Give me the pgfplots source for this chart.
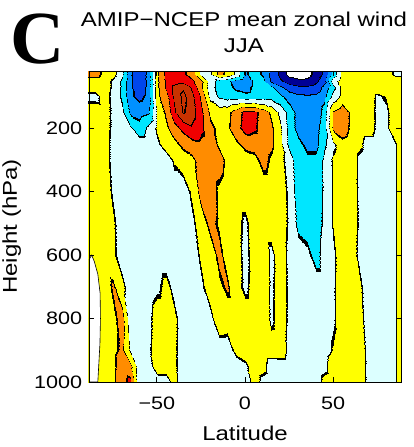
\documentclass[border=0pt]{standalone}
\usepackage{pgfplots}
\pgfplotsset{compat=1.18}
\usepackage{fontspec}
\setmainfont{Liberation Sans}[FakeStretch=1.2]
\newfontfamily\Cfont{Liberation Serif}
\begin{document}
\begin{tikzpicture}
\begin{axis}[
  at={(0pt,0pt)}, anchor=south west,
  scale only axis, width=312pt, height=311pt,
  xmin=-88.5, xmax=88.5, ymin=20, ymax=1000, y dir=reverse,
  xtick={-50,0,50}, xticklabels={−50,0,50},
  ytick={200,400,600,800,1000}, yticklabels={200,400,600,800,1000},
  tick align=inside, major tick length=5pt,
  every tick/.style={black, line width=0.8pt},
  axis line style={line width=0.8pt},
  tick label style={font=\fontsize{18}{20}\selectfont},
  xticklabel style={inner sep=0pt, yshift=-15pt},
  yticklabel style={inner sep=0pt, xshift=-6.7pt},
  point meta min=-6, point meta max=5,
  colormap={cmap}{
    rgb255(0pt)=(255,255,255)
    rgb255(94pt)=(0,0,0)
    rgb255(106pt)=(0,0,150)
    rgb255(194pt)=(0,0,0)
    rgb255(206pt)=(0,70,235)
    rgb255(294pt)=(0,0,0)
    rgb255(306pt)=(0,145,255)
    rgb255(394pt)=(0,0,0)
    rgb255(406pt)=(0,230,255)
    rgb255(494pt)=(0,0,0)
    rgb255(506pt)=(220,255,255)
    rgb255(594pt)=(0,0,0)
    rgb255(606pt)=(255,255,0)
    rgb255(694pt)=(0,0,0)
    rgb255(706pt)=(255,140,0)
    rgb255(794pt)=(0,0,0)
    rgb255(806pt)=(240,0,0)
    rgb255(894pt)=(0,0,0)
    rgb255(906pt)=(200,50,0)
    rgb255(994pt)=(0,0,0)
    rgb255(1006pt)=(200,50,0)
    rgb255(1100pt)=(200,50,0)
  },
  colormap access=piecewise constant,
  axis on top,
]
\addplot[surf, shader=interp, mesh/rows=17, mesh/cols=37, point meta=explicit] coordinates {
(-90,1000)[0.5] (-85,1000)[0.5] (-80,1000)[0.6] (-75,1000)[0.8] (-70,1000)[1.7] (-65,1000)[2.3] (-60,1000)[-0.7] (-55,1000)[-0.5] (-50,1000)[-0.5] (-45,1000)[-0.4] (-40,1000)[0.3] (-35,1000)[-0.5] (-30,1000)[-0.5] (-25,1000)[-0.5] (-20,1000)[-0.5] (-15,1000)[-0.5] (-10,1000)[-0.5] (-5,1000)[-0.5] (0,1000)[-0.9] (5,1000)[0.5] (10,1000)[-0.3] (15,1000)[-0.5] (20,1000)[-0.5] (25,1000)[-0.5] (30,1000)[-0.5] (35,1000)[-0.5] (40,1000)[-0.5] (45,1000)[0.3] (50,1000)[0.5] (55,1000)[0.5] (60,1000)[0.5] (65,1000)[0.5] (70,1000)[-0.3] (75,1000)[-0.5] (80,1000)[-0.5] (85,1000)[-0.1] (90,1000)[0.8]
(-90,950)[0.5] (-85,950)[0.5] (-80,950)[0.6] (-75,950)[0.8] (-70,950)[1.5] (-65,950)[1.3] (-60,950)[-0.6] (-55,950)[-0.4] (-50,950)[0.5] (-45,950)[0.5] (-40,950)[0.2] (-35,950)[-0.5] (-30,950)[-0.5] (-25,950)[-0.5] (-20,950)[-0.5] (-15,950)[-0.5] (-10,950)[-0.5] (-5,950)[-0.5] (0,950)[-0.2] (5,950)[0.5] (10,950)[0.3] (15,950)[-0.5] (20,950)[-0.5] (25,950)[-0.5] (30,950)[-0.5] (35,950)[-0.5] (40,950)[-0.5] (45,950)[-0.3] (50,950)[0.7] (55,950)[0.5] (60,950)[0.5] (65,950)[0.5] (70,950)[-0.3] (75,950)[-0.5] (80,950)[-0.5] (85,950)[-0.1] (90,950)[0.8]
(-90,900)[0.5] (-85,900)[0.5] (-80,900)[0.6] (-75,900)[0.8] (-70,900)[1.2] (-65,900)[-0.15] (-60,900)[-0.5] (-55,900)[-0.2] (-50,900)[0.5] (-45,900)[0.5] (-40,900)[0.2] (-35,900)[-0.5] (-30,900)[-0.5] (-25,900)[-0.5] (-20,900)[-0.5] (-15,900)[-0.5] (-10,900)[-0.5] (-5,900)[0.3] (0,900)[0.5] (5,900)[0.5] (10,900)[0.5] (15,900)[0.5] (20,900)[0.6] (25,900)[-0.3] (30,900)[-0.5] (35,900)[-0.5] (40,900)[-0.5] (45,900)[-0.5] (50,900)[0.1] (55,900)[0.5] (60,900)[0.5] (65,900)[0.5] (70,900)[-0.3] (75,900)[-0.5] (80,900)[-0.5] (85,900)[-0.1] (90,900)[0.8]
(-90,800)[0.5] (-85,800)[0.5] (-80,800)[0.6] (-75,800)[0.75] (-70,800)[1.4] (-65,800)[-0.7] (-60,800)[-0.5] (-55,800)[-0.3] (-50,800)[0.5] (-45,800)[0.5] (-40,800)[0.25] (-35,800)[-0.5] (-30,800)[-0.5] (-25,800)[-0.5] (-20,800)[-0.3] (-15,800)[0.6] (-10,800)[0.5] (-5,800)[0.5] (0,800)[0.5] (5,800)[0.5] (10,800)[0.7] (15,800)[-0.2] (20,800)[0.5] (25,800)[-0.2] (30,800)[-0.5] (35,800)[-0.5] (40,800)[-0.5] (45,800)[-0.5] (50,800)[-0.15] (55,800)[0.6] (60,800)[0.5] (65,800)[0.3] (70,800)[-0.5] (75,800)[-0.5] (80,800)[-0.5] (85,800)[-0.1] (90,800)[0.8]
(-90,700)[0.5] (-85,700)[0.5] (-80,700)[0.5] (-75,700)[1.15] (-70,700)[0.25] (-65,700)[-0.5] (-60,700)[-0.5] (-55,700)[-0.5] (-50,700)[-0.2] (-45,700)[0.3] (-40,700)[-0.3] (-35,700)[-0.5] (-30,700)[-0.5] (-25,700)[-0.2] (-20,700)[0.5] (-15,700)[0.8] (-10,700)[1.15] (-5,700)[0.35] (0,700)[-0.2] (5,700)[0.4] (10,700)[0.7] (15,700)[-0.2] (20,700)[0.5] (25,700)[-0.2] (30,700)[-0.5] (35,700)[-0.5] (40,700)[-0.5] (45,700)[-0.5] (50,700)[-0.15] (55,700)[0.6] (60,700)[0.5] (65,700)[0.15] (70,700)[-0.5] (75,700)[-0.5] (80,700)[-0.5] (85,700)[-0.1] (90,700)[0.8]
(-90,600)[0.5] (-85,600)[0.5] (-80,600)[0.5] (-75,600)[0.2] (-70,600)[-0.5] (-65,600)[-0.5] (-60,600)[-0.5] (-55,600)[-0.5] (-50,600)[-0.5] (-45,600)[-0.5] (-40,600)[-0.5] (-35,600)[-0.5] (-30,600)[-0.5] (-25,600)[0.2] (-20,600)[0.5] (-15,600)[1.25] (-10,600)[0.6] (-5,600)[0.4] (0,600)[-0.3] (5,600)[0.45] (10,600)[0.7] (15,600)[-0.25] (20,600)[0.5] (25,600)[-0.25] (30,600)[-0.5] (35,600)[-0.75] (40,600)[-1.4] (45,600)[-0.5] (50,600)[-0.2] (55,600)[0.6] (60,600)[0.5] (65,600)[-0.3] (70,600)[-0.5] (75,600)[-0.5] (80,600)[-0.5] (85,600)[-0.1] (90,600)[0.8]
(-90,500)[0.5] (-85,500)[0.5] (-80,500)[0.5] (-75,500)[0.15] (-70,500)[-0.5] (-65,500)[-0.5] (-60,500)[-0.5] (-55,500)[-0.5] (-50,500)[-0.5] (-45,500)[-0.5] (-40,500)[-0.5] (-35,500)[-0.5] (-30,500)[-0.2] (-25,500)[0.5] (-20,500)[1.3] (-15,500)[0.85] (-10,500)[0.5] (-5,500)[0.35] (0,500)[-0.2] (5,500)[0.5] (10,500)[0.5] (15,500)[0.5] (20,500)[0.5] (25,500)[-0.15] (30,500)[-1.3] (35,500)[-1.5] (40,500)[-1.5] (45,500)[-0.8] (50,500)[0.1] (55,500)[0.5] (60,500)[0.5] (65,500)[-0.2] (70,500)[-0.5] (75,500)[-0.5] (80,500)[-0.5] (85,500)[-0.1] (90,500)[0.8]
(-90,400)[0.5] (-85,400)[0.5] (-80,400)[0.5] (-75,400)[-0.15] (-70,400)[-0.5] (-65,400)[-0.5] (-60,400)[-0.5] (-55,400)[-0.5] (-50,400)[-0.5] (-45,400)[-0.5] (-40,400)[-0.5] (-35,400)[-0.5] (-30,400)[0.2] (-25,400)[1.4] (-20,400)[1.5] (-15,400)[0.8] (-10,400)[0.5] (-5,400)[0.5] (0,400)[0.5] (5,400)[0.5] (10,400)[0.5] (15,400)[0.5] (20,400)[0.5] (25,400)[-0.2] (30,400)[-1.6] (35,400)[-1.7] (40,400)[-1.6] (45,400)[-0.8] (50,400)[0.1] (55,400)[0.5] (60,400)[0.5] (65,400)[-0.25] (70,400)[-0.5] (75,400)[-0.5] (80,400)[-0.5] (85,400)[-0.1] (90,400)[0.8]
(-90,300)[0.5] (-85,300)[0.5] (-80,300)[0.4] (-75,300)[-0.3] (-70,300)[-0.5] (-65,300)[-0.5] (-60,300)[-0.5] (-55,300)[-0.5] (-50,300)[-0.5] (-45,300)[-0.5] (-40,300)[0.15] (-35,300)[0.5] (-30,300)[0.75] (-25,300)[1.5] (-20,300)[1.5] (-15,300)[1.4] (-10,300)[0.75] (-5,300)[0.5] (0,300)[0.5] (5,300)[0.7] (10,300)[1.3] (15,300)[0.85] (20,300)[0.3] (25,300)[-0.4] (30,300)[-1.7] (35,300)[-1.75] (40,300)[-1.75] (45,300)[-0.8] (50,300)[0.15] (55,300)[0.5] (60,300)[0.5] (65,300)[-0.25] (70,300)[-0.5] (75,300)[-0.5] (80,300)[-0.5] (85,300)[-0.1] (90,300)[0.8]
(-90,250)[0.5] (-85,250)[0.5] (-80,250)[0.4] (-75,250)[-0.3] (-70,250)[-0.5] (-65,250)[-0.5] (-60,250)[-0.5] (-55,250)[-0.5] (-50,250)[-0.2] (-45,250)[0.5] (-40,250)[0.7] (-35,250)[1.25] (-30,250)[1.7] (-25,250)[1.8] (-20,250)[1.6] (-15,250)[0.8] (-10,250)[0.5] (-5,250)[0.8] (0,250)[1.3] (5,250)[1.4] (10,250)[1.4] (15,250)[1.2] (20,250)[0.3] (25,250)[-1.3] (30,250)[-1.7] (35,250)[-2.3] (40,250)[-2.25] (45,250)[-1.2] (50,250)[-0.2] (55,250)[0.7] (60,250)[0.5] (65,250)[0.2] (70,250)[-0.5] (75,250)[-0.5] (80,250)[-0.5] (85,250)[-0.1] (90,250)[0.8]
(-90,200)[0.5] (-85,200)[0.5] (-80,200)[0.4] (-75,200)[-0.2] (-70,200)[-0.5] (-65,200)[-0.8] (-60,200)[-1.6] (-55,200)[-0.8] (-50,200)[0.2] (-45,200)[0.8] (-40,200)[1.6] (-35,200)[2.3] (-30,200)[2.8] (-25,200)[2.2] (-20,200)[1.25] (-15,200)[0.7] (-10,200)[0.8] (-5,200)[1.6] (0,200)[2.4] (5,200)[2.2] (10,200)[1.5] (15,200)[1.2] (20,200)[0.2] (25,200)[-1.3] (30,200)[-2.4] (35,200)[-2.7] (40,200)[-2.3] (45,200)[-1.4] (50,200)[1.2] (55,200)[1.5] (60,200)[0.8] (65,200)[0.5] (70,200)[0.5] (75,200)[-0.2] (80,200)[-0.2] (85,200)[0.6] (90,200)[0.8]
(-90,150)[0.5] (-85,150)[0.5] (-80,150)[0.4] (-75,150)[-0.2] (-70,150)[-0.8] (-65,150)[-2.2] (-60,150)[-2.4] (-55,150)[-2.15] (-50,150)[0.2] (-45,150)[1.2] (-40,150)[2.8] (-35,150)[4.1] (-30,150)[3.4] (-25,150)[2.2] (-20,150)[0.8] (-15,150)[0.5] (-10,150)[0.7] (-5,150)[1.5] (0,150)[2.3] (5,150)[2.25] (10,150)[1.6] (15,150)[0.8] (20,150)[-0.3] (25,150)[-1.4] (30,150)[-2.4] (35,150)[-2.8] (40,150)[-2.6] (45,150)[-1.6] (50,150)[1.1] (55,150)[1.6] (60,150)[0.8] (65,150)[0.5] (70,150)[0.5] (75,150)[-0.2] (80,150)[-0.2] (85,150)[0.6] (90,150)[0.8]
(-90,100)[-0.3] (-85,100)[-0.3] (-80,100)[0.4] (-75,100)[-0.3] (-70,100)[-1.2] (-65,100)[-2.8] (-60,100)[-3.3] (-55,100)[-2.7] (-50,100)[0.8] (-45,100)[1.6] (-40,100)[3.2] (-35,100)[4.3] (-30,100)[3.2] (-25,100)[1.8] (-20,100)[-0.3] (-15,100)[-1.2] (-10,100)[-1.5] (-5,100)[-1.6] (0,100)[-1.7] (5,100)[-1.6] (10,100)[-1.5] (15,100)[-1.4] (20,100)[-1.8] (25,100)[-2.5] (30,100)[-2.8] (35,100)[-2.85] (40,100)[-2.8] (45,100)[-2.3] (50,100)[-0.7] (55,100)[0.3] (60,100)[0.5] (65,100)[0.5] (70,100)[0.5] (75,100)[-0.15] (80,100)[0.1] (85,100)[0.4] (90,100)[0.5]
(-90,70)[0.5] (-85,70)[0.5] (-80,70)[0.5] (-75,70)[-0.2] (-70,70)[-1.2] (-65,70)[-2.8] (-60,70)[-3.75] (-55,70)[-2.7] (-50,70)[0.8] (-45,70)[2.2] (-40,70)[3.3] (-35,70)[3.8] (-30,70)[2.8] (-25,70)[1.2] (-20,70)[-0.6] (-15,70)[-1.4] (-10,70)[-1.7] (-5,70)[-2.2] (0,70)[-2.5] (5,70)[-1.7] (10,70)[-1.5] (15,70)[-1.8] (20,70)[-2.8] (25,70)[-3.5] (30,70)[-3.8] (35,70)[-3.85] (40,70)[-3.6] (45,70)[-2.7] (50,70)[-1.3] (55,70)[0.3] (60,70)[0.5] (65,70)[0.5] (70,70)[0.5] (75,70)[0.5] (80,70)[0.5] (85,70)[0.5] (90,70)[0.5]
(-90,50)[0.5] (-85,50)[0.6] (-80,50)[0.5] (-75,50)[-0.2] (-70,50)[-1.2] (-65,50)[-2.8] (-60,50)[-3.8] (-55,50)[-2.7] (-50,50)[0.8] (-45,50)[2.2] (-40,50)[2.5] (-35,50)[2.6] (-30,50)[2.2] (-25,50)[1.25] (-20,50)[-0.5] (-15,50)[-1.4] (-10,50)[-1.8] (-5,50)[-2.4] (0,50)[-2.8] (5,50)[-1.8] (10,50)[-1.7] (15,50)[-3.2] (20,50)[-3.8] (25,50)[-4.5] (30,50)[-4.7] (35,50)[-4.7] (40,50)[-4.2] (45,50)[-3.3] (50,50)[-0.4] (55,50)[0.5] (60,50)[0.5] (65,50)[0.5] (70,50)[0.5] (75,50)[0.5] (80,50)[0.5] (85,50)[0.5] (90,50)[0.5]
(-90,30)[1.3] (-85,30)[1.3] (-80,30)[0.8] (-75,30)[0.4] (-70,30)[-0.8] (-65,30)[-2.8] (-60,30)[-3.8] (-55,30)[-2.7] (-50,30)[0.8] (-45,30)[2.3] (-40,30)[2.6] (-35,30)[2.2] (-30,30)[1.5] (-25,30)[-0.3] (-20,30)[-0.2] (-15,30)[1.3] (-10,30)[0.8] (-5,30)[-0.2] (0,30)[-2.2] (5,30)[-1.5] (10,30)[-2.2] (15,30)[-3.2] (20,30)[-4.3] (25,30)[-5.3] (30,30)[-5.6] (35,30)[-5.4] (40,30)[-4.6] (45,30)[-3.8] (50,30)[-1.6] (55,30)[0.3] (60,30)[0.5] (65,30)[0.5] (70,30)[0.5] (75,30)[0.5] (80,30)[0.5] (85,30)[-0.2] (90,30)[-0.3]
(-90,20)[1.3] (-85,20)[1.3] (-80,20)[0.8] (-75,20)[0.4] (-70,20)[-0.8] (-65,20)[-2.8] (-60,20)[-3.8] (-55,20)[-2.7] (-50,20)[0.8] (-45,20)[2.3] (-40,20)[2.6] (-35,20)[2.2] (-30,20)[1.5] (-25,20)[-0.3] (-20,20)[-0.2] (-15,20)[1.3] (-10,20)[0.8] (-5,20)[-0.2] (0,20)[-2.2] (5,20)[-1.5] (10,20)[-2.2] (15,20)[-3.2] (20,20)[-4.3] (25,20)[-5.3] (30,20)[-5.6] (35,20)[-5.4] (40,20)[-4.6] (45,20)[-3.8] (50,20)[-1.6] (55,20)[0.3] (60,20)[0.5] (65,20)[0.5] (70,20)[0.5] (75,20)[0.5] (80,20)[0.5] (85,20)[-0.2] (90,20)[-0.3]
};
\addplot[fill=white, draw=black, line width=0.6pt, forget plot] coordinates {(-88.5,615) (-87,600) (-85.5,620) (-83.5,660) (-82.2,720) (-82,800) (-82.3,880) (-83,950) (-83.5,1000) (-88.5,1000)} --cycle;
\end{axis}
\node[anchor=base, inner sep=0pt, font=\fontsize{20}{24}\selectfont] at (155pt,355pt) {AMIP−NCEP mean zonal wind};
\node[anchor=base, inner sep=0pt, font=\fontsize{20}{24}\selectfont] at (155pt,329pt) {JJA};
\node[anchor=base west, inner sep=0pt, font=\Cfont\bfseries\fontsize{75}{80}\selectfont] at (-79pt,318pt) {C};
\node[anchor=base, inner sep=0pt, font=\fontsize{20}{24}\selectfont] at (156pt,-58pt) {Latitude};
\node[rotate=90, anchor=base, inner sep=0pt, font=\fontsize{20}{24}\selectfont] at (-72pt,155.5pt) {Height (hPa)};
\pgfresetboundingbox
\useasboundingbox (-89pt,-65pt) rectangle (325pt,382pt);
\end{tikzpicture}
\end{document}
